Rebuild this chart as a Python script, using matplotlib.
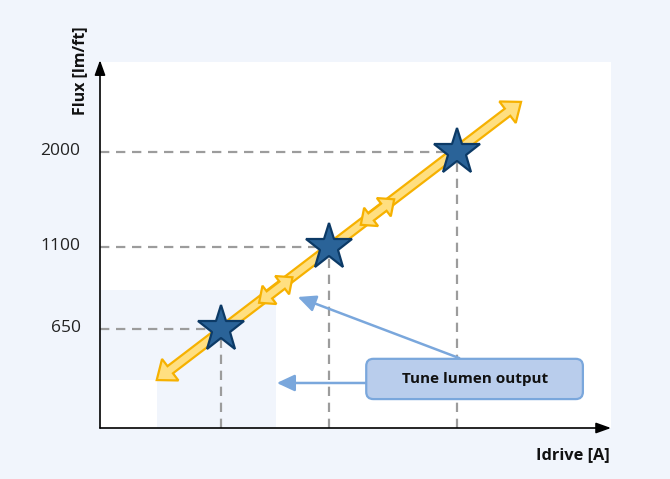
import numpy as np
import matplotlib
matplotlib.use("Agg")
import matplotlib.pyplot as plt
from matplotlib.patches import Polygon, FancyBboxPatch
from matplotlib.transforms import ScaledTranslation

plt.rcParams['font.family'] = ['Open Sans', 'DejaVu Sans']

# === Schematic data (arbitrary axis units, 0..10) ===
drive_pos = [2.36, 4.49, 6.99]          # Idrive of the three operating points
flux_pos = [2.70, 4.95, 7.55]           # flux positions on the (schematic) y axis
flux_labels = ['650', '1100', '2000']   # lm/ft

ramp_start = (1.11, 1.31)               # ends of the yellow double arrow
ramp_end = (8.24, 8.91)
tune_x = [3.44, 5.43]                   # small tuning arrows on the ramp
tune_y = [3.77, 5.90]

callout_text = 'Tune lumen output'
callout_box = (5.21, 0.79, 4.24, 1.10)  # x, y, width, height
callout_from = [(7.03, 1.91), (5.21, 1.23)]
callout_to = [(3.87, 3.58), (3.46, 1.23)]

# === Colours ===
bg_col = '#F1F5FC'
fill_yel = '#FFDF80'
edge_yel = '#F6B100'
star_fill = '#2A6398'
star_edge = '#0C3A66'
dash_col = '#9C9C9C'
call_fill = '#B9CDEC'
call_edge = '#7AA7DC'

fig = plt.figure(figsize=(6.7, 4.79), dpi=100, facecolor=bg_col)
ax = fig.add_axes([100 / 670, 51 / 479, 511 / 670, 366 / 479])
ax.set_facecolor('white')
ax.set_xlim(0, 10)
ax.set_ylim(0, 10)
for s in ax.spines.values():
    s.set_visible(False)
ax.set_xticks([])


def double_arrow(p0, p1, shaft, head_w, head_l):
    """Outline of a double headed arrow, sizes in pixels, ends in data coords."""
    a = ax.transData.transform(p0)
    b = ax.transData.transform(p1)
    u = (b - a) / np.hypot(*(b - a))
    n = np.array([-u[1], u[0]])
    ba = a + u * head_l
    bb = b - u * head_l
    pts = [a, ba + n * head_w / 2, ba + n * shaft / 2, bb + n * shaft / 2,
           bb + n * head_w / 2, b, bb - n * head_w / 2, bb - n * shaft / 2,
           ba - n * shaft / 2, ba - n * head_w / 2]
    return ax.transData.inverted().transform(np.array(pts))


# shaded tuning area (L shape below the first tuning arrow)
shade = [(0, tune_y[0]), (tune_x[0], tune_y[0]), (tune_x[0], 0),
         (ramp_start[0], 0), (ramp_start[0], ramp_start[1]), (0, ramp_start[1])]
ax.add_patch(Polygon(shade, closed=True, facecolor=bg_col, edgecolor='none', zorder=1))

# dashed guide lines
for x, y in zip(drive_pos, flux_pos):
    ax.plot([0, x], [y, y], color=dash_col, lw=1.6, dashes=(4.2, 3), zorder=2)
    ax.plot([x, x], [0, y], color=dash_col, lw=1.6, dashes=(4.2, 3), zorder=2)

# main ramp arrow
ax.add_patch(Polygon(double_arrow(ramp_start, ramp_end, 9, 27, 17), closed=True,
                     facecolor=fill_yel, edgecolor=edge_yel, lw=1.6,
                     joinstyle='miter', zorder=3))

# small tuning arrows along the ramp
a = ax.transData.transform(ramp_start)
b = ax.transData.transform(ramp_end)
u = (b - a) / np.hypot(*(b - a))
inv = ax.transData.inverted()
for cx, cy in zip(tune_x, tune_y):
    c = ax.transData.transform((cx, cy))
    p0 = inv.transform(c - u * 21)
    p1 = inv.transform(c + u * 21)
    ax.add_patch(Polygon(double_arrow(p0, p1, 9, 23, 13), closed=True,
                         facecolor=fill_yel, edgecolor=edge_yel, lw=1.6,
                         joinstyle='miter', zorder=4))

# operating points
ax.plot(drive_pos, flux_pos, linestyle='none', marker='*', markersize=35,
        markerfacecolor=star_fill, markeredgecolor=star_edge, markeredgewidth=1.6,
        zorder=5)

# callout arrows and box
for (x0, y0), (x1, y1) in zip(callout_from, callout_to):
    ax.annotate('', xy=(x1, y1), xytext=(x0, y0),
                arrowprops=dict(arrowstyle='-|>,head_length=0.9,head_width=0.42',
                                color=call_edge, lw=1.8, mutation_scale=12,
                                shrinkA=0, shrinkB=0), zorder=4)

bx, by, bw, bh = callout_box
ax.add_patch(FancyBboxPatch((bx, by), bw, bh,
                            boxstyle='round,pad=0,rounding_size=0.14',
                            mutation_aspect=51.1 / 36.6,
                            facecolor=call_fill, edgecolor=call_edge, lw=1.6, zorder=6))
ax.text(bx + bw / 2, by + bh / 2, callout_text, ha='center', va='center',
        fontsize=11, fontweight='bold', color='#111111', zorder=7)

# y ticks
ax.set_yticks(flux_pos, flux_labels)
ax.tick_params(axis='y', length=0, pad=14, labelsize=12.5, labelcolor='#222222')
for lab in ax.get_yticklabels():
    lab.set_transform(lab.get_transform() + ScaledTranslation(0, 3 / 100, fig.dpi_scale_trans))

# axis arrows
arrow_kw = dict(arrowstyle='-|>,head_length=0.75,head_width=0.27', color='black',
                lw=1.2, mutation_scale=12, shrinkA=0, shrinkB=0)
ax.annotate('', xy=(0, 1.005), xytext=(0, 0), xycoords='axes fraction',
            arrowprops=arrow_kw, annotation_clip=False)
ax.annotate('', xy=(1.0, 0), xytext=(0, 0), xycoords='axes fraction',
            arrowprops=arrow_kw, annotation_clip=False)

# axis titles
fig.text(80 / 670, 1 - 71 / 479, 'Flux [lm/ft]', rotation=90, ha='center', va='center',
         fontsize=11.5, fontweight='bold', color='#111111')
fig.text(610 / 670, 1 - 455 / 479, 'Idrive [A]', ha='right', va='center',
         fontsize=11.8, fontweight='bold', color='#111111')

fig.savefig('out.png', dpi=100, facecolor=bg_col)
